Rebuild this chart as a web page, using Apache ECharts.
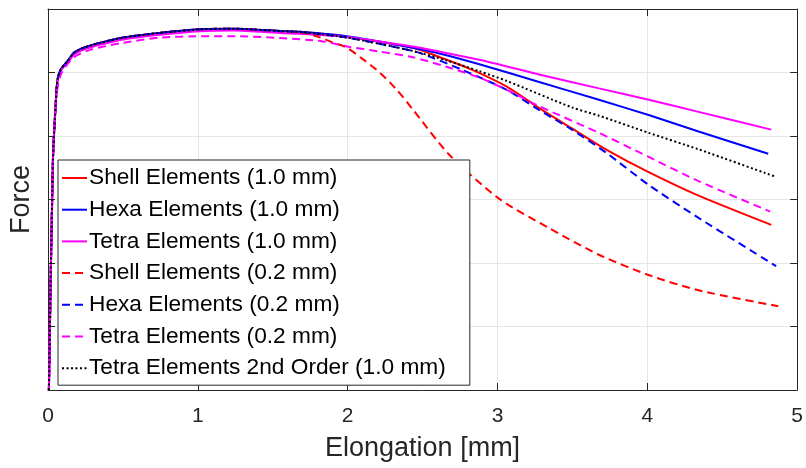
<!DOCTYPE html>
<html>
<head>
<meta charset="utf-8">
<script src="https://cdn.jsdelivr.net/npm/echarts@6/dist/echarts.min.js"></script>
<style>
  html, body { margin: 0; padding: 0; background: #ffffff; }
  #chart { width: 806px; height: 468px; }
</style>
</head>
<body>
<div id="chart"></div>
<script>
// Force–elongation curves for different element types and mesh sizes.
// Each series is a list of [elongation (mm), force (relative units)] points.

const xTicks = [0, 1, 2, 3, 4, 5];

const shell10 = [
  [0.006, 0], [0.033, 3.63], [0.053, 4.57], [0.064, 4.89], [0.086, 5.05], [0.131, 5.18],
  [0.173, 5.31], [0.239, 5.39], [0.352, 5.47], [0.505, 5.55], [0.731, 5.62], [1.017, 5.68],
  [1.237, 5.69], [1.569, 5.65], [1.682, 5.64], [1.995, 5.56], [2.434, 5.39], [2.660, 5.20],
  [2.832, 5.04], [3.059, 4.78], [3.278, 4.44], [3.497, 4.12], [3.723, 3.79], [4.009, 3.43],
  [4.342, 3.06], [4.827, 2.60]
];

const hexa10 = [
  [0.006, 0], [0.033, 3.63], [0.053, 4.57], [0.064, 4.89], [0.086, 5.05], [0.131, 5.18],
  [0.173, 5.31], [0.239, 5.39], [0.352, 5.47], [0.505, 5.55], [0.731, 5.62], [1.017, 5.68],
  [1.237, 5.69], [1.569, 5.65], [1.682, 5.64], [1.995, 5.57], [2.434, 5.39], [2.613, 5.30],
  [2.879, 5.13], [3.278, 4.85], [3.677, 4.57], [4.009, 4.33], [4.342, 4.07], [4.807, 3.72]
];

const tetra10 = [
  [0.006, 0], [0.033, 3.63], [0.053, 4.57], [0.064, 4.88], [0.086, 5.03], [0.131, 5.15],
  [0.173, 5.28], [0.239, 5.36], [0.352, 5.44], [0.505, 5.52], [0.731, 5.59], [1.017, 5.65],
  [1.237, 5.66], [1.569, 5.62], [1.682, 5.61], [1.995, 5.56], [2.434, 5.41], [2.613, 5.33],
  [2.879, 5.20], [3.278, 4.97], [3.677, 4.75], [4.009, 4.57], [4.342, 4.38], [4.827, 4.10]
];

const shell02 = [
  [0.006, 0], [0.033, 3.63], [0.053, 4.57], [0.064, 4.89], [0.086, 5.05], [0.131, 5.18],
  [0.173, 5.31], [0.239, 5.39], [0.352, 5.47], [0.505, 5.55], [0.731, 5.62], [1.017, 5.68],
  [1.237, 5.69], [1.569, 5.65], [1.682, 5.63], [1.782, 5.58], [1.882, 5.49], [1.995, 5.39],
  [2.101, 5.21], [2.214, 5.00], [2.327, 4.73], [2.434, 4.42], [2.680, 3.70], [3.012, 3.01],
  [3.344, 2.55], [3.677, 2.13], [4.009, 1.81], [4.342, 1.57], [4.874, 1.32]
];

const hexa02 = [
  [0.006, 0], [0.033, 3.63], [0.053, 4.57], [0.064, 4.89], [0.086, 5.05], [0.131, 5.18],
  [0.173, 5.31], [0.239, 5.39], [0.352, 5.47], [0.505, 5.55], [0.731, 5.62], [1.017, 5.68],
  [1.237, 5.69], [1.569, 5.65], [1.682, 5.64], [1.995, 5.55], [2.434, 5.34], [2.547, 5.25],
  [2.766, 5.04], [3.059, 4.73], [3.278, 4.41], [3.497, 4.10], [3.723, 3.74], [4.009, 3.23],
  [4.342, 2.71], [4.860, 1.95]
];

const tetra02 = [
  [0.006, 0], [0.033, 3.63], [0.053, 4.57], [0.086, 4.97], [0.173, 5.24], [0.286, 5.36],
  [0.505, 5.47], [0.751, 5.55], [1.017, 5.57], [1.283, 5.57], [1.569, 5.54], [1.835, 5.49],
  [1.995, 5.41], [2.214, 5.33], [2.434, 5.24], [2.660, 5.09], [2.879, 4.92], [3.059, 4.73],
  [3.278, 4.47], [3.677, 4.05], [4.009, 3.67], [4.342, 3.29], [4.820, 2.81]
];

const tetra10Quad = [
  [0.006, 0], [0.033, 3.63], [0.053, 4.57], [0.064, 4.89], [0.086, 5.05], [0.131, 5.18],
  [0.173, 5.31], [0.239, 5.39], [0.352, 5.47], [0.505, 5.55], [0.731, 5.62], [1.017, 5.68],
  [1.237, 5.69], [1.569, 5.65], [1.682, 5.64], [1.995, 5.55], [2.214, 5.45], [2.434, 5.34],
  [2.660, 5.19], [2.879, 5.02], [3.059, 4.87], [3.497, 4.45], [3.677, 4.32], [4.009, 4.05],
  [4.342, 3.79], [4.854, 3.36]
];

const seriesNames = [
  'Shell Elements (1.0 mm)',
  'Hexa Elements (1.0 mm)',
  'Tetra Elements (1.0 mm)',
  'Shell Elements (0.2 mm)',
  'Hexa Elements (0.2 mm)',
  'Tetra Elements (0.2 mm)',
  'Tetra Elements 2nd Order (1.0 mm)'
];
const seriesData = [shell10, hexa10, tetra10, shell02, hexa02, tetra02, tetra10Quad];
const seriesColors = ['#ff0000', '#0000ff', '#ff00ff', '#ff0000', '#0000ff', '#ff00ff', '#000000'];
const seriesDash = ['solid', 'solid', 'solid', [8, 5], [8, 5], [8, 5], [2, 2.5]];

const AX = '#262626';
const FONT = '"Liberation Sans", Arial, Helvetica, sans-serif';

const chart = echarts.init(document.getElementById('chart'), null, { renderer: 'canvas' });

const boxAxis = {
  axisLine: { show: true, onZero: false, lineStyle: { color: AX, width: 1 } },
  axisTick: { show: true, inside: true, length: 7, lineStyle: { color: AX, width: 1 } },
  axisLabel: { show: false },
  splitLine: { show: false }
};

chart.setOption({
  animation: false,
  backgroundColor: '#ffffff',
  textStyle: { fontFamily: FONT },
  grid: { left: 47, right: 7, top: 9, bottom: 78 },
  legend: {
    orient: 'vertical',
    left: 58,
    top: 160,
    padding: [6, 24, 5, 3],
    itemGap: 7.7,
    itemWidth: 25,
    itemHeight: 14,
    backgroundColor: '#ffffff',
    borderColor: AX,
    borderWidth: 1,
    // only the line sample is shown in each legend entry, no marker
    itemStyle: { color: 'rgba(0,0,0,0)', borderWidth: 0, opacity: 0 },
    textStyle: {
      fontFamily: FONT, fontSize: 22.7, color: '#000000', lineHeight: 24,
      padding: [0, 0, 0, -3]
    },
    data: seriesNames
  },
  xAxis: [
    Object.assign({}, boxAxis, {
      type: 'value', min: 0, max: 5, interval: 1, position: 'bottom',
      axisLabel: {
        show: true, margin: 16, fontSize: 21, color: AX, fontFamily: FONT,
        formatter: v => (xTicks.indexOf(v) >= 0 ? String(v) : '')
      },
      splitLine: { show: true, lineStyle: { color: '#e6e6e6', width: 1 } },
      name: 'Elongation [mm]', nameLocation: 'middle', nameGap: 45,
      nameTextStyle: { fontSize: 27, color: AX, fontFamily: FONT }
    }),
    Object.assign({}, boxAxis, {
      type: 'value', min: 0, max: 5, interval: 1, position: 'top'
    })
  ],
  yAxis: [
    Object.assign({}, boxAxis, {
      type: 'value', min: 0, max: 6, interval: 1, position: 'left',
      splitLine: { show: true, lineStyle: { color: '#e6e6e6', width: 1 } },
      name: 'Force', nameLocation: 'middle', nameGap: 13, nameRotate: 90,
      nameTextStyle: { fontSize: 27, color: AX, fontFamily: FONT }
    }),
    Object.assign({}, boxAxis, {
      type: 'value', min: 0, max: 6, interval: 1, position: 'right'
    })
  ],
  series: seriesNames.map((name, i) => ({
    name: name,
    type: 'line',
    xAxisIndex: 0,
    yAxisIndex: 0,
    data: seriesData[i],
    symbol: 'none',
    showSymbol: false,
    smooth: 0.25,
    clip: true,
    itemStyle: { color: seriesColors[i] },
    lineStyle: { color: seriesColors[i], width: 2, type: seriesDash[i] },
    emphasis: { disabled: true }
  }))
});
</script>
</body>
</html>
